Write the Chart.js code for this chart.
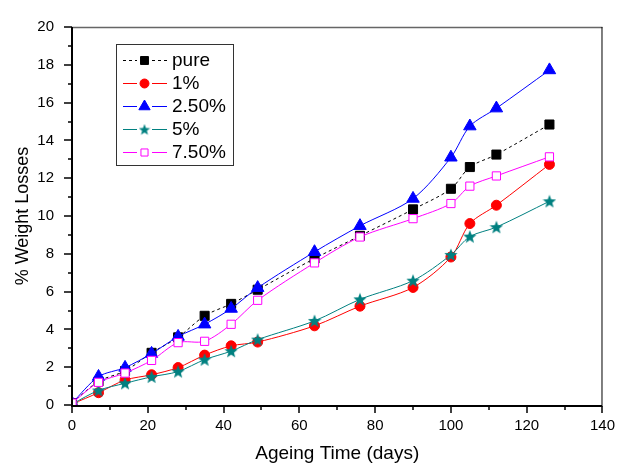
<!DOCTYPE html>
<html>
<head>
<meta charset="utf-8">
<script src="https://cdn.jsdelivr.net/npm/chart.js@4/dist/chart.umd.min.js"></script>
<style>
  body { margin: 0; background: #fff; }
  #wrap { width: 627px; height: 463px; position: relative; }
</style>
</head>
<body>
<div id="wrap"><canvas id="weightChart"></canvas></div>
<script>
// datos
const days = [0, 7, 14, 21, 28, 35, 42, 49, 64, 76, 90, 100, 105, 112, 126];
const seriesNames = ["pure", "1%", "2.50%", "5%", "7.50%"];
const pure = [0.1, 1.25, 1.8, 2.76, 3.58, 4.72, 5.35, 6.1, 7.75, 8.95, 10.35, 11.44, 12.59, 13.25, 14.84];
const onePct = [0.05, 0.65, 1.32, 1.6, 1.98, 2.64, 3.13, 3.33, 4.19, 5.23, 6.22, 7.83, 9.6, 10.57, 12.73];
const twoHalfPct = [0.1, 1.5, 1.98, 2.72, 3.62, 4.27, 5.1, 6.2, 8.1, 9.48, 10.92, 13.1, 14.75, 15.7, 17.72];
const fivePct = [0.05, 0.77, 1.15, 1.49, 1.77, 2.4, 2.85, 3.46, 4.45, 5.59, 6.58, 7.94, 8.91, 9.41, 10.78];
const sevenHalfPct = [0.1, 1.2, 1.69, 2.36, 3.3, 3.37, 4.27, 5.54, 7.52, 8.89, 9.86, 10.66, 11.58, 12.12, 13.13];
const xTicks = [0, 20, 40, 60, 80, 100, 120, 140];
const yTicks = [0, 2, 4, 6, 8, 10, 12, 14, 16, 18, 20];

const FONT = "'Liberation Sans', Arial, Helvetica, sans-serif";

// estrella rellena para la serie 5%
function makeStar(size, color) {
  const c = document.createElement("canvas");
  c.width = size;
  c.height = size;
  const g = c.getContext("2d");
  const cx = size / 2, cy = size / 2 + 0.5;
  const outer = size / 2, inner = outer * 0.42;
  g.beginPath();
  for (let i = 0; i < 10; i++) {
    const r = i % 2 === 0 ? outer : inner;
    const a = -Math.PI / 2 + i * Math.PI / 5;
    const px = cx + r * Math.cos(a), py = cy + r * Math.sin(a);
    if (i === 0) g.moveTo(px, py); else g.lineTo(px, py);
  }
  g.closePath();
  g.fillStyle = color;
  g.fill();
  return c;
}
const starBig = makeStar(14, "#008080");
const starSmall = makeStar(12, "#008080");

function toPoints(values) {
  return days.map((d, i) => ({ x: d, y: values[i] }));
}

const styles = [
  { color: "#000000", fill: "#000000", point: "rect", radius: 6.4, legendRadius: 5.6, dash: [3, 3], order: 5 },
  { color: "#ff0000", fill: "#ff0000", point: "circle", radius: 5, legendRadius: 4.5, dash: [], order: 4 },
  { color: "#0000ff", fill: "#0000ff", point: "triangle", radius: 7.2, legendRadius: 6.5, dash: [], order: 3 },
  { color: "#008080", fill: "#008080", point: starBig, legendPoint: starSmall, radius: 7, legendRadius: 6, dash: [], order: 2 },
  { color: "#ff00ff", fill: "#ffffff", point: "rect", radius: 5.8, legendRadius: 5, dash: [], order: 1 },
];
const allValues = [pure, onePct, twoHalfPct, fivePct, sevenHalfPct];

const datasets = allValues.map((vals, i) => ({
  label: seriesNames[i],
  data: toPoints(vals),
  borderColor: styles[i].color,
  borderWidth: 1,
  borderDash: styles[i].dash,
  backgroundColor: styles[i].fill,
  pointStyle: styles[i].point,
  pointRadius: styles[i].radius,
  pointBackgroundColor: styles[i].fill,
  pointBorderColor: styles[i].color,
  pointBorderWidth: 1,
  tension: 0.3,
  order: styles[i].order,
}));

// marco, ticks mayores/menores y leyenda dibujados a mano
const framePlugin = {
  id: "frame",
  afterDraw(chart) {
    const ctx = chart.ctx;
    const a = chart.chartArea;
    const xs = chart.scales.x, ys = chart.scales.y;
    ctx.save();
    ctx.strokeStyle = "#666";
    ctx.lineWidth = 1.5;
    ctx.beginPath();
    ctx.moveTo(a.left, a.top + 0.5);
    ctx.lineTo(a.right, a.top + 0.5);
    ctx.stroke();
    ctx.strokeStyle = "#000";
    ctx.lineWidth = 1;
    ctx.beginPath();
    ctx.moveTo(a.right - 0.5, a.top);
    ctx.lineTo(a.right - 0.5, a.bottom);
    ctx.stroke();
    ctx.lineWidth = 2;
    ctx.beginPath();
    ctx.moveTo(a.left, a.top);
    ctx.lineTo(a.left, a.bottom + 1);
    ctx.lineTo(a.right, a.bottom + 1);
    ctx.stroke();
    ctx.lineWidth = 1.5;
    for (let v = 0; v <= 140; v += 10) {
      const px = Math.round(xs.getPixelForValue(v));
      const len = v % 20 === 0 ? 7 : 4;
      ctx.beginPath();
      ctx.moveTo(px, a.bottom + 1);
      ctx.lineTo(px, a.bottom + 1 + len);
      ctx.stroke();
    }
    for (let v = 0; v <= 20; v += 1) {
      const py = Math.round(ys.getPixelForValue(v));
      const len = v % 2 === 0 ? 8 : 4;
      ctx.beginPath();
      ctx.moveTo(a.left, py);
      ctx.lineTo(a.left - len, py);
      ctx.stroke();
    }

    // leyenda
    const bx = 116, by = 44, bw = 117, bh = 121;
    ctx.lineWidth = 1;
    ctx.strokeStyle = "#333";
    ctx.fillStyle = "#fff";
    ctx.fillRect(bx, by, bw, bh);
    ctx.strokeRect(bx + 0.5, by + 0.5, bw, bh);
    ctx.font = "19px " + FONT;
    ctx.textBaseline = "middle";
    seriesNames.forEach((name, i) => {
      const s = styles[i];
      const y = 60 + i * 23;
      ctx.strokeStyle = s.color;
      ctx.lineWidth = 1;
      ctx.setLineDash(s.dash);
      ctx.beginPath();
      ctx.moveTo(123, y + 0.5);
      ctx.lineTo(137, y + 0.5);
      ctx.moveTo(152, y + 0.5);
      ctx.lineTo(167, y + 0.5);
      ctx.stroke();
      ctx.setLineDash([]);
      ctx.fillStyle = s.fill;
      ctx.strokeStyle = s.color;
      Chart.helpers.drawPoint(ctx, {
        pointStyle: s.legendPoint || s.point,
        radius: s.legendRadius,
        rotation: 0,
        borderWidth: 1,
      }, 144.5, y + 0.5);
      ctx.fillStyle = "#000";
      ctx.fillText(name, 172, y + 1);
    });
    ctx.restore();
  },
};

new Chart(document.getElementById("weightChart").getContext("2d"), {
  type: "line",
  data: { datasets },
  options: {
    responsive: true,
    maintainAspectRatio: false,
    animation: false,
    layout: { padding: { top: 21, right: 15, left: 0, bottom: 0 } },
    plugins: { legend: { display: false }, tooltip: { enabled: false } },
    scales: {
      x: {
        type: "linear",
        min: 0,
        max: 140,
        afterFit(scale) { scale.height = 58; },
        afterBuildTicks(scale) { scale.ticks = xTicks.map((v) => ({ value: v })); },
        grid: { display: false, drawTicks: false },
        border: { display: false },
        ticks: { padding: 12, color: "#000", font: { family: FONT, size: 15 } },
        title: {
          display: true,
          text: "Ageing Time (days)",
          color: "#000",
          font: { family: FONT, size: 19, lineHeight: 1 },
          padding: { top: 0, bottom: 0 },
        },
      },
      y: {
        min: 0,
        max: 20,
        afterFit(scale) { scale.width = 72; },
        afterBuildTicks(scale) { scale.ticks = yTicks.map((v) => ({ value: v })); },
        grid: { display: false, drawTicks: false },
        border: { display: false },
        ticks: { padding: 18, color: "#000", font: { family: FONT, size: 15 } },
        title: {
          display: true,
          text: "% Weight Losses",
          color: "#000",
          font: { family: FONT, size: 18 },
          padding: { top: 12, bottom: 0 },
        },
      },
    },
  },
  plugins: [framePlugin],
});
</script>
</body>
</html>
